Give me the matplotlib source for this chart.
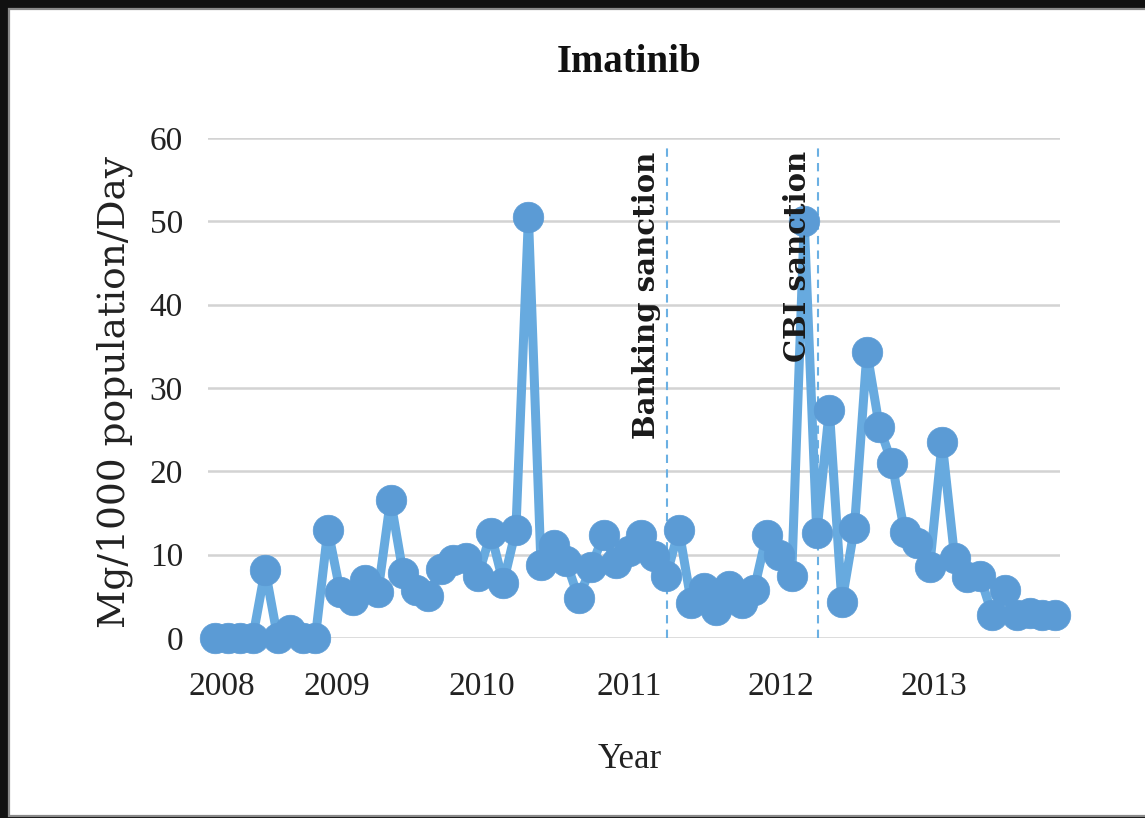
import matplotlib
matplotlib.use("Agg")
import matplotlib.pyplot as plt
from matplotlib.patches import Rectangle
import numpy as np

# ---- data (monthly values) ----
values = [0, 0, 0, 0, 8.2, 0, 1, 0, 0, 13,
          5.5, 4.6, 7, 5.5, 16.6, 7.8, 5.8, 5, 8.3, 9.4,
          9.6, 7.5, 12.6, 6.6, 13, 50.5, 8.8, 11.2, 9.2, 4.8,
          8.5, 12.4, 9, 10.4, 12.4, 9.8, 7.4, 13, 4.2, 6,
          3.4, 6.3, 4.2, 5.8, 12.4, 10, 7.5, 50, 12.6, 27.4,
          4.3, 13.2, 34.3, 25.3, 21, 12.7, 11.4, 8.5, 23.5, 9.6,
          7.3, 7.5, 2.8, 5.8, 2.8, 3, 2.8, 2.8]
year_labels = ["2008", "2009", "2010", "2011", "2012", "2013"]
year_label_pos = [0.56, 9.7, 21.3, 33.0, 45.1, 57.3]
event_labels = ["Banking sanction", "CBI sanction"]
event_pos = [36.05, 48.1]
y_ticks = [0, 10, 20, 30, 40, 50, 60]

W, H = 1145, 818
fig = plt.figure(figsize=(W / 100, H / 100), dpi=100)
fig.patch.set_facecolor("#111111")
fig.patches.append(Rectangle((9 / W, 2 / H), 1.02, (816 - 9) / H,
                             transform=fig.transFigure, facecolor="white",
                             edgecolor="#8a8a8a", linewidth=1.6, zorder=-10))

ax = fig.add_axes([208 / W, 1 - 638 / H, (1060 - 208) / W, (638 - 138) / H])
ax.set_zorder(1)
ax.set_facecolor("none")
x = np.arange(len(values))
ax.plot(x, values, color="#67AADF", linewidth=6.5, solid_joinstyle="round",
        solid_capstyle="round", zorder=3, clip_on=False)
ax.plot(x, values, linestyle="none", marker="o", markersize=22,
        markerfacecolor="#5B9BD5", markeredgecolor="#5B9BD5",
        markeredgewidth=0.5, zorder=4, clip_on=False)

ax.set_xlim(-0.56, 67.4)
ax.set_ylim(0, 60)
ax.set_yticks(y_ticks)
ax.yaxis.grid(True, color="#D3D3D3", linewidth=1.8, zorder=0)
ax.set_axisbelow(True)
for s in ax.spines.values():
    s.set_visible(False)
ax.set_xticks(year_label_pos)
ax.set_xticklabels(year_labels)
ax.tick_params(axis="both", length=0)
ax.tick_params(axis="x", pad=24)
ax.tick_params(axis="y", pad=18)
for lab in ax.get_xticklabels() + ax.get_yticklabels():
    lab.set_fontfamily("Liberation Serif")
    lab.set_fontsize(24)
    lab.set_color("#222222")

for xe, lab in zip(event_pos, event_labels):
    ax.plot([xe, xe], [0, 59.3], color="#6BB0E3", linewidth=1.5,
            linestyle=(0, (4, 3)), zorder=2)
    ax.text(xe - 0.45, 58.4, lab, rotation=90, ha="right", va="top",
            fontfamily="DejaVu Serif", fontweight="bold", fontsize=21,
            color="#1a1a1a", zorder=5)

fig.text(629 / W, 1 - 63 / H, "Imatinib", ha="center", va="center",
         fontfamily="Liberation Serif", fontweight="bold", fontsize=28,
         color="#111111")
fig.text(630 / W, 1 - 760 / H, "Year", ha="center", va="center",
         fontfamily="Liberation Serif", fontsize=25, color="#222222")
fig.text(115 / W, 1 - 392 / H, "Mg/1000 population/Day", rotation=90,
         ha="center", va="center", fontfamily="DejaVu Serif", fontsize=27,
         color="#222222")

fig.savefig("out.png", dpi=100, facecolor=fig.get_facecolor())
